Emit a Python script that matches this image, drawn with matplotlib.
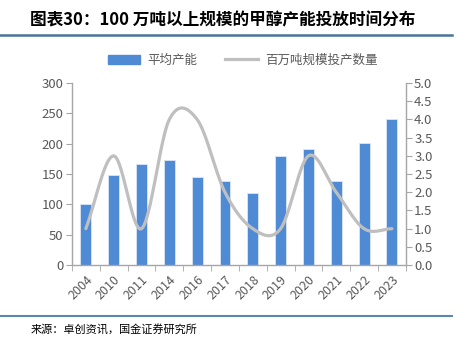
import matplotlib.pyplot as plt
import numpy as np
from matplotlib.lines import Line2D

plt.rcParams['font.family'] = ['Noto Sans CJK SC', 'DejaVu Sans']

years = ['2004', '2010', '2011', '2014', '2016', '2017', '2018', '2019',
         '2020', '2021', '2022', '2023']
avg_capacity = [100, 149, 167, 173, 145, 139, 119, 179, 192, 139, 201, 241]
project_count = [1, 3, 1, 4, 4, 2, 1, 1, 3, 2, 1, 1]

bar_color = '#4f8ad4'
line_color = '#bfbfbf'
text_color = '#595959'
axis_color = '#a6a6a6'


def smooth(x, y, n=30):
    # Catmull-Rom curve through the points, like Excel's smoothed line
    x = np.asarray(x, float)
    y = np.asarray(y, float)
    px = np.concatenate([[2 * x[0] - x[1]], x, [2 * x[-1] - x[-2]]])
    py = np.concatenate([[2 * y[0] - y[1]], y, [2 * y[-1] - y[-2]]])
    xs, ys = [], []
    t = np.linspace(0, 1, n)
    for i in range(1, len(px) - 2):
        for p, out in ((px, xs), (py, ys)):
            p0, p1, p2, p3 = p[i - 1], p[i], p[i + 1], p[i + 2]
            out.extend(0.5 * ((2 * p1) + (-p0 + p2) * t
                              + (2 * p0 - 5 * p1 + 4 * p2 - p3) * t ** 2
                              + (-p0 + 3 * p1 - 3 * p2 + p3) * t ** 3))
    return np.array(xs), np.array(ys)


fig = plt.figure(figsize=(4.67, 3.39), dpi=100)
ax = fig.add_axes([0.154, 0.218, 0.715, 0.537])
ax2 = ax.twinx()

ind = np.arange(len(years))
ax.bar(ind, avg_capacity, 0.39, color=bar_color, edgecolor='#dbe6f5',
       linewidth=0.6, zorder=2)

sx, sy = smooth(ind, project_count)
ax2.plot(sx, sy, color=line_color, lw=2.3, solid_capstyle='round')

ax.set_xlim(-0.5, len(years) - 0.5)
ax.set_ylim(0, 300)
ax.set_yticks(range(0, 301, 50))
ax2.set_ylim(0, 5)
ax2.set_yticks(np.arange(0, 5.01, 0.5))
ax2.set_yticklabels(['%.1f' % v for v in np.arange(0, 5.01, 0.5)])

ax.set_xticks(ind)
ax.set_xticklabels(years, rotation=45, ha='right', rotation_mode='anchor')
ax.set_xticks(np.arange(-0.5, len(years), 1), minor=True)
ax.tick_params(axis='x', which='major', length=0, pad=6, labelsize=9,
               labelcolor=text_color)
ax.tick_params(axis='x', which='minor', length=4, color=axis_color, direction='out')
ax.tick_params(axis='y', length=4, color=axis_color, labelsize=9.5,
               labelcolor=text_color, pad=2)
ax2.tick_params(axis='y', length=4, color=axis_color, labelsize=9.5,
                labelcolor=text_color, pad=2)

for a in (ax, ax2):
    a.spines['top'].set_visible(False)
    for s in ('left', 'right', 'bottom'):
        a.spines[s].set_color(axis_color)
        a.spines[s].set_linewidth(1)
ax.spines['right'].set_visible(False)
ax2.spines['left'].set_visible(False)
ax2.spines['bottom'].set_visible(False)

handles = [plt.Rectangle((0, 0), 1, 1, color=bar_color),
           Line2D([0], [0], color=line_color, lw=2.3)]
fig.legend(handles, ['平均产能', '百万吨规模投产数量'], loc='center',
           bbox_to_anchor=(0.52, 0.822), ncol=2, frameon=False,
           fontsize=9, labelcolor=text_color, handlelength=2.6,
           columnspacing=2.2, handletextpad=0.6)

fig.text(0.065, 0.94, '图表30：100 万吨以上规模的甲醇产能投放时间分布',
         fontsize=12, fontweight='bold', style='italic', va='center')
fig.add_artist(Line2D([0, 0.968], [0.896, 0.896], color='#4a7499', lw=1.8))
fig.add_artist(Line2D([0, 0.968], [0.068, 0.068], color='#5b86ad', lw=1.5))
fig.text(0.065, 0.027, '来源：卓创资讯，国金证券研究所', fontsize=8, va='center')

plt.savefig('out.png', dpi=100)
